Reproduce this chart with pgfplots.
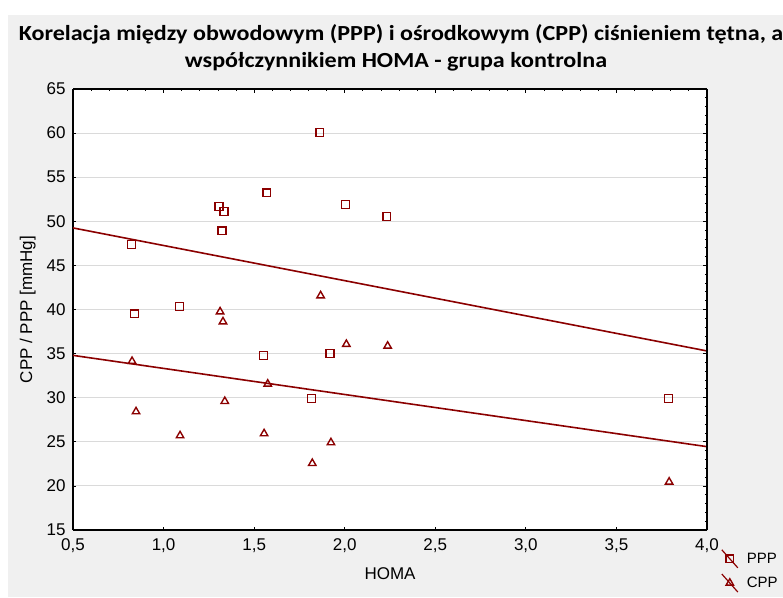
\documentclass[border=0pt]{standalone}
\usepackage{pgfplots}
\pgfplotsset{compat=1.18}
\usepackage{fontspec}
\setmainfont{Liberation Sans}
\newfontfamily\titlefont{Carlito}
\definecolor{dred}{RGB}{139,0,0}
\definecolor{bgc}{RGB}{240,240,240}
\definecolor{gridc}{RGB}{218,218,218}

\pgfplotstableread{
x y
0.822 47.35
0.840 39.52
1.087 40.32
1.306 51.66
1.334 51.10
1.323 48.93
1.570 53.24
1.551 34.80
1.862 60.09
1.816 29.93
2.004 51.89
1.919 35.03
2.232 50.53
3.787 29.90
}\ppp

\pgfplotstableread{
x y
0.826 34.13
0.848 28.42
1.091 25.70
1.312 39.75
1.328 38.62
1.338 29.59
1.575 31.56
1.555 25.93
1.867 41.57
1.821 22.56
2.009 36.06
1.924 24.91
2.237 35.86
3.791 20.45
}\cpp

\begin{document}
\begin{tikzpicture}[x=1pt,y=1pt]
\fill[white] (0,0) rectangle (783,597);
\fill[bgc] (8,0) rectangle (783,582);
\useasboundingbox (0,0) rectangle (783,597);
\node[font=\titlefont\bfseries\fontsize{21.5}{26}\selectfont, anchor=base, inner sep=0pt] at (401,597-41) {\scalebox{1.12}[1]{Korelacja między obwodowym (PPP) i ośrodkowym (CPP) ciśnieniem tętna, a}};
\node[font=\titlefont\bfseries\fontsize{21.5}{26}\selectfont, anchor=base, inner sep=0pt] at (396,597-68) {\scalebox{1.12}[1]{współczynnikiem HOMA - grupa kontrolna}};

\begin{axis}[
  at={(73pt,67pt)}, anchor=south west,
  scale only axis, width=634pt, height=441pt,
  xmin=0.5, xmax=4.0, ymin=15, ymax=65,
  xtick={0.5,1.0,...,4.0}, ytick={15,20,...,65},
  axis background/.style={fill=white},
  axis line style={black, line width=1.5pt},
  axis x line*=bottom, axis y line*=left,
  tick style={black, line width=0.8pt},
  major tick length=3pt,
  tick align=inside,
  ymajorgrids, grid style={gridc, line width=1pt},
  /pgf/number format/assume math mode=true,
  xticklabel={\pgfmathprintnumber[fixed, fixed zerofill, precision=1, use comma]{\tick}},
  ticklabel style={font=\fontsize{17}{20}\selectfont},
  xticklabel style={yshift=-5pt},
  yticklabel style={xshift=-4pt},
  xlabel={HOMA}, ylabel={CPP / PPP [mmHg]},
  label style={font=\fontsize{17}{20}\selectfont},
  xlabel style={yshift=-8pt},
  ylabel style={yshift=4pt},
  legend style={draw=none, fill=none, at={(1,0)}, anchor=north west, xshift=14pt, yshift=-19pt,
    font=\fontsize{15}{18}\selectfont, row sep=5pt, inner sep=0pt},
  legend cell align=left,
  legend image code/.code={%
    \draw[dred, line width=1.2pt] (0pt,9pt) -- (16pt,-9pt);
    \draw[mark repeat=2,mark phase=2,#1] plot coordinates {(0pt,0pt)(8pt,0pt)(16pt,0pt)};
    \path[draw=none] (23pt,0pt) circle (0.01pt);
  },
]
\addplot[only marks, mark=square, mark size=3.9pt, dred, mark options={line width=1.4pt}] table {\ppp};
\addlegendentry{PPP}
\addplot[only marks, mark=triangle, mark size=4.3pt, dred, mark options={line width=1.4pt}] table {\cpp};
\addlegendentry{CPP}
\addplot[dred, line width=1.6pt, forget plot] coordinates {(0.5,49.25) (4.0,35.3)};
\addplot[dred, line width=1.6pt, forget plot] coordinates {(0.5,34.8) (4.0,24.45)};
\end{axis}

\begin{axis}[
  at={(73pt,67pt)}, anchor=south west,
  scale only axis, width=634pt, height=441pt,
  xmin=0.5, xmax=4.0, ymin=15, ymax=65,
  xtick={0.5,1.0,...,4.0}, ytick={15,20,...,65},
  minor x tick num=4, minor y tick num=4,
  axis x line*=top, axis y line*=right,
  axis line style={black, line width=1.3pt},
  tick style={black, line width=0.8pt},
  major tick length=4pt, minor tick length=2.5pt,
  tick align=inside,
  xticklabels={}, yticklabels={},
]
\addplot[draw=none, forget plot] coordinates {(1,20)};
\end{axis}
\end{tikzpicture}
\end{document}
